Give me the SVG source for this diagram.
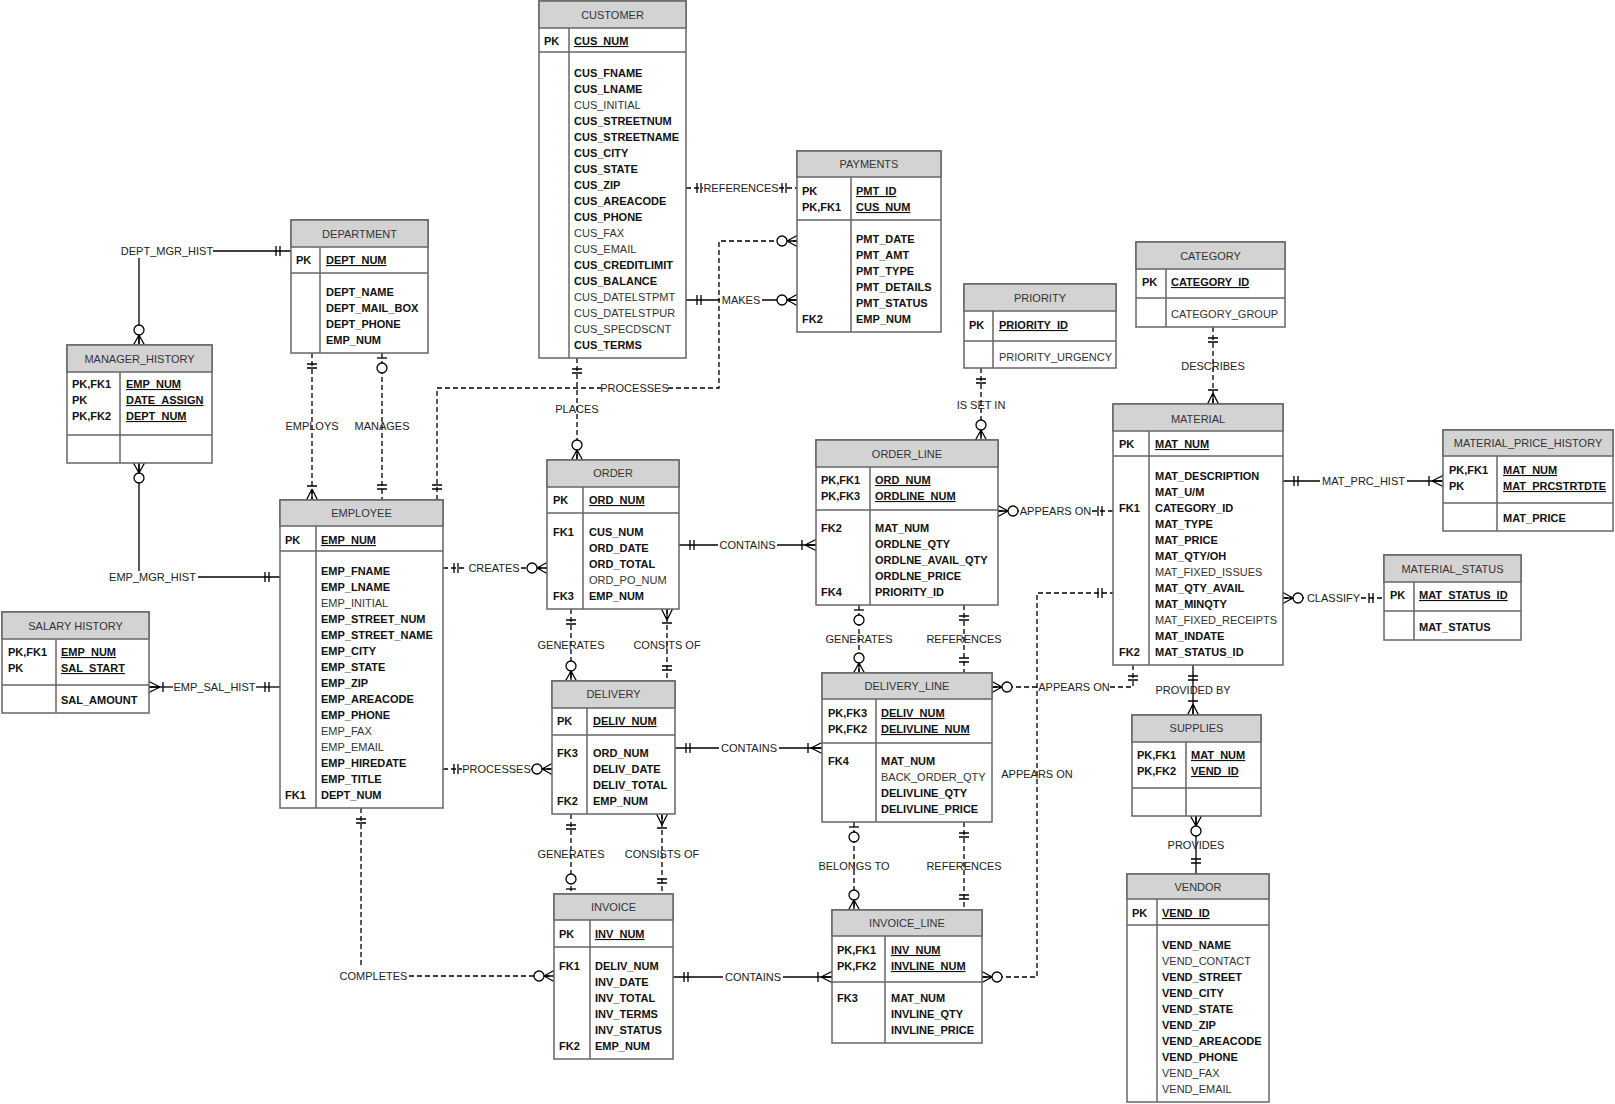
<svg xmlns="http://www.w3.org/2000/svg" width="1615" height="1104" viewBox="0 0 1615 1104">
<style>
.box{fill:#fff;stroke:#666;stroke-width:1.5}
.hd{fill:#d3d3d3;stroke:#666;stroke-width:1.5}
.dv{stroke:#666;stroke-width:1.5}
text{font-family:"Liberation Sans",Arial,sans-serif;font-size:11px;fill:#111}
.t{text-anchor:middle;fill:#333}
.k,.b{font-weight:bold}
.u{font-weight:bold;text-decoration:underline}
.r{fill:#333}
.lb{text-anchor:middle;fill:#222}
.s{stroke:#000;stroke-width:1.3;fill:none}
.d{stroke:#000;stroke-width:1.3;fill:none;stroke-dasharray:5 3}
.mk{stroke:#000;stroke-width:1.3;fill:none}
.mc{stroke:#000;stroke-width:1.3;fill:#fff}
</style>
<defs>
<marker id="one" markerUnits="userSpaceOnUse" orient="auto-start-reverse" refX="0" refY="0" markerWidth="30" markerHeight="30" overflow="visible"><path class="mk" d="M-11,-5V5M-15,-5V5"/></marker>
<marker id="many1" markerUnits="userSpaceOnUse" orient="auto-start-reverse" refX="0" refY="0" markerWidth="30" markerHeight="30" overflow="visible"><path class="mk" d="M-11,0L0,-5.5M-11,0L0,0M-11,0L0,5.5M-14,-5V5"/></marker>
<marker id="many0" markerUnits="userSpaceOnUse" orient="auto-start-reverse" refX="0" refY="0" markerWidth="30" markerHeight="30" overflow="visible"><path class="mk" d="M-10,0L0,-5.5M-10,0L0,0M-10,0L0,5.5"/><circle class="mc" cx="-15" cy="0" r="5"/></marker>
<marker id="one0" markerUnits="userSpaceOnUse" orient="auto-start-reverse" refX="0" refY="0" markerWidth="30" markerHeight="30" overflow="visible"><path class="mk" d="M-5,-5V5"/><circle class="mc" cx="-15" cy="0" r="5"/></marker>
</defs>
<rect width="1615" height="1104" fill="#fff"/>

<g id="connectors">
<!-- DEPT_MGR_HIST -->
<path class="s" d="M213,251H291" marker-end="url(#one)"/>
<path class="s" d="M139,258V345" marker-end="url(#many0)"/>
<text class="lb" x="167" y="255">DEPT_MGR_HIST</text>
<!-- EMP_MGR_HIST -->
<path class="s" d="M139,463V571" marker-start="url(#many0)"/>
<path class="s" d="M198,577H280" marker-end="url(#one)"/>
<text class="lb" x="152.5" y="581">EMP_MGR_HIST</text>
<!-- EMP_SAL_HIST -->
<path class="s" d="M149,687H173" marker-start="url(#many1)"/>
<path class="s" d="M256,687H280" marker-end="url(#one)"/>
<text class="lb" x="214.5" y="691">EMP_SAL_HIST</text>
<!-- EMPLOYS / MANAGES -->
<path class="d" d="M312,353V500" marker-start="url(#one)" marker-end="url(#many1)"/>
<text class="lb" x="312" y="430">EMPLOYS</text>
<path class="d" d="M382,353V500" marker-start="url(#one0)" marker-end="url(#one)"/>
<text class="lb" x="382" y="430">MANAGES</text>
<!-- PROCESSES employee-payments -->
<path class="d" d="M437,500V388H601" marker-start="url(#one)"/>
<path class="d" d="M668,388H719V241H797" marker-end="url(#many0)"/>
<text class="lb" x="634.5" y="392">PROCESSES</text>
<!-- PLACES -->
<path class="d" d="M577,358V460" marker-start="url(#one)" marker-end="url(#many0)"/>
<text class="lb" x="577" y="413">PLACES</text>
<!-- REFERENCES customer-payments -->
<path class="d" d="M686,188H703" marker-start="url(#one)"/>
<path class="d" d="M779,188H797" marker-end="url(#one)"/>
<text class="lb" x="741" y="192">REFERENCES</text>
<!-- MAKES -->
<path class="s" d="M686,300H720" marker-start="url(#one)"/>
<path class="s" d="M762,300H797" marker-end="url(#many0)"/>
<text class="lb" x="741" y="304">MAKES</text>
<!-- CREATES -->
<path class="d" d="M443,568H467" marker-start="url(#one)"/>
<path class="d" d="M521,568H547" marker-end="url(#many0)"/>
<text class="lb" x="494" y="572">CREATES</text>
<!-- CONTAINS order-order_line -->
<path class="s" d="M679,545H718" marker-start="url(#one)"/>
<path class="s" d="M777,545H816" marker-end="url(#many1)"/>
<text class="lb" x="747.5" y="549">CONTAINS</text>
<!-- GENERATES / CONSITS OF order-delivery -->
<path class="d" d="M571,609V681" marker-start="url(#one)" marker-end="url(#many0)"/>
<text class="lb" x="571" y="649">GENERATES</text>
<path class="d" d="M667,609V681" marker-start="url(#many1)" marker-end="url(#one)"/>
<text class="lb" x="667" y="649">CONSITS OF</text>
<!-- PROCESSES employee-delivery -->
<path class="d" d="M443,769H462" marker-start="url(#one)"/>
<path class="d" d="M531,769H552" marker-end="url(#many0)"/>
<text class="lb" x="496.5" y="773">PROCESSES</text>
<!-- CONTAINS delivery-delivery_line -->
<path class="s" d="M675,748H719" marker-start="url(#one)"/>
<path class="s" d="M779,748H822" marker-end="url(#many1)"/>
<text class="lb" x="749" y="752">CONTAINS</text>
<!-- GENERATES / CONSISTS OF delivery-invoice -->
<path class="d" d="M571,814V894" marker-start="url(#one)" marker-end="url(#one0)"/>
<text class="lb" x="571" y="858">GENERATES</text>
<path class="d" d="M662,814V894" marker-start="url(#many1)" marker-end="url(#one)"/>
<text class="lb" x="662" y="858">CONSISTS OF</text>
<!-- COMPLETES -->
<path class="d" d="M361,808V966" marker-start="url(#one)"/>
<path class="d" d="M409,976H554" marker-end="url(#many0)"/>
<text class="lb" x="373.5" y="980">COMPLETES</text>
<!-- CONTAINS invoice-invoice_line -->
<path class="s" d="M673,977H723" marker-start="url(#one)"/>
<path class="s" d="M783,977H832" marker-end="url(#many1)"/>
<text class="lb" x="753" y="981">CONTAINS</text>
<!-- IS SET IN -->
<path class="d" d="M981,368V440" marker-start="url(#one)" marker-end="url(#many0)"/>
<text class="lb" x="981" y="409">IS SET IN</text>
<!-- DESCRIBES -->
<path class="d" d="M1213,327V404" marker-start="url(#one)" marker-end="url(#many1)"/>
<text class="lb" x="1213" y="370">DESCRIBES</text>
<!-- APPEARS ON order_line-material -->
<path class="d" d="M998,511H1019" marker-start="url(#many0)"/>
<path class="d" d="M1092,511H1113" marker-end="url(#one)"/>
<text class="lb" x="1055.5" y="515">APPEARS ON</text>
<!-- MAT_PRC_HIST -->
<path class="s" d="M1283,481H1320" marker-start="url(#one)"/>
<path class="s" d="M1407,481H1443" marker-end="url(#many1)"/>
<text class="lb" x="1363.5" y="485">MAT_PRC_HIST</text>
<!-- CLASSIFY -->
<path class="d" d="M1283,598H1306" marker-start="url(#many0)"/>
<path class="d" d="M1361,598H1384" marker-end="url(#one)"/>
<text class="lb" x="1333.5" y="602">CLASSIFY</text>
<!-- GENERATES / REFERENCES order_line-delivery_line -->
<path class="d" d="M859,605V673" marker-start="url(#one0)" marker-end="url(#many0)"/>
<text class="lb" x="859" y="643">GENERATES</text>
<path class="d" d="M964,605V673" marker-start="url(#one)" marker-end="url(#one)"/>
<text class="lb" x="964" y="643">REFERENCES</text>
<!-- APPEARS ON delivery_line-material -->
<path class="d" d="M992,687H1037" marker-start="url(#many0)"/>
<path class="d" d="M1110,687H1133V665" marker-end="url(#one)"/>
<text class="lb" x="1074" y="691">APPEARS ON</text>
<!-- APPEARS ON invoice_line-material -->
<path class="d" d="M982,977H1037V593H1113" marker-start="url(#many0)" marker-end="url(#one)"/>
<text class="lb" x="1037" y="778">APPEARS ON</text>
<!-- BELONGS TO / REFERENCES delivery_line-invoice_line -->
<path class="d" d="M854,822V910" marker-start="url(#one0)" marker-end="url(#many0)"/>
<text class="lb" x="854" y="870">BELONGS TO</text>
<path class="d" d="M964,822V910" marker-start="url(#one)" marker-end="url(#one)"/>
<text class="lb" x="964" y="870">REFERENCES</text>
<!-- PROVIDED BY -->
<path class="s" d="M1193,665V715" marker-start="url(#one)" marker-end="url(#many1)"/>
<text class="lb" x="1193" y="694">PROVIDED BY</text>
<!-- PROVIDES -->
<path class="s" d="M1196,816V874" marker-start="url(#many0)" marker-end="url(#one)"/>
<text class="lb" x="1196" y="849">PROVIDES</text>
</g>

<g id="department">
<rect class="box" x="291" y="220" width="137" height="133"/>
<rect class="hd" x="291" y="220" width="137" height="27"/>
<line class="dv" x1="291" y1="273" x2="428" y2="273"/>
<line class="dv" x1="320" y1="247" x2="320" y2="353"/>
<text class="t" x="359.5" y="238">DEPARTMENT</text>
<text class="k" x="296" y="264">PK</text>
<text class="u" x="326" y="264">DEPT_NUM</text>
<text class="b" x="326" y="296">DEPT_NAME</text>
<text class="b" x="326" y="312">DEPT_MAIL_BOX</text>
<text class="b" x="326" y="328">DEPT_PHONE</text>
<text class="b" x="326" y="344">EMP_NUM</text>
</g>

<g id="manager_history">
<rect class="box" x="67" y="345" width="145" height="118"/>
<rect class="hd" x="67" y="345" width="145" height="27"/>
<line class="dv" x1="67" y1="435" x2="212" y2="435"/>
<line class="dv" x1="120" y1="372" x2="120" y2="463"/>
<text class="t" x="139.5" y="363">MANAGER_HISTORY</text>
<text class="k" x="72" y="388">PK,FK1</text>
<text class="k" x="72" y="404">PK</text>
<text class="k" x="72" y="420">PK,FK2</text>
<text class="u" x="126" y="388">EMP_NUM</text>
<text class="u" x="126" y="404">DATE_ASSIGN</text>
<text class="u" x="126" y="420">DEPT_NUM</text>
</g>

<g id="employee">
<rect class="box" x="280" y="500" width="163" height="308"/>
<rect class="hd" x="280" y="500" width="163" height="26"/>
<line class="dv" x1="280" y1="551" x2="443" y2="551"/>
<line class="dv" x1="316" y1="526" x2="316" y2="808"/>
<text class="t" x="361.5" y="517">EMPLOYEE</text>
<text class="k" x="285" y="544">PK</text>
<text class="u" x="321" y="544">EMP_NUM</text>
<text class="b" x="321" y="575">EMP_FNAME</text>
<text class="b" x="321" y="591">EMP_LNAME</text>
<text class="r" x="321" y="607">EMP_INITIAL</text>
<text class="b" x="321" y="623">EMP_STREET_NUM</text>
<text class="b" x="321" y="639">EMP_STREET_NAME</text>
<text class="b" x="321" y="655">EMP_CITY</text>
<text class="b" x="321" y="671">EMP_STATE</text>
<text class="b" x="321" y="687">EMP_ZIP</text>
<text class="b" x="321" y="703">EMP_AREACODE</text>
<text class="b" x="321" y="719">EMP_PHONE</text>
<text class="r" x="321" y="735">EMP_FAX</text>
<text class="r" x="321" y="751">EMP_EMAIL</text>
<text class="b" x="321" y="767">EMP_HIREDATE</text>
<text class="b" x="321" y="783">EMP_TITLE</text>
<text class="k" x="285" y="799">FK1</text>
<text class="b" x="321" y="799">DEPT_NUM</text>
</g>

<g id="salary_history">
<rect class="box" x="2" y="612" width="147" height="101"/>
<rect class="hd" x="2" y="612" width="147" height="27"/>
<line class="dv" x1="2" y1="685" x2="149" y2="685"/>
<line class="dv" x1="56" y1="639" x2="56" y2="713"/>
<text class="t" x="75.5" y="630">SALARY HISTORY</text>
<text class="k" x="8" y="656">PK,FK1</text>
<text class="k" x="8" y="672">PK</text>
<text class="u" x="61" y="656">EMP_NUM</text>
<text class="u" x="61" y="672">SAL_START</text>
<text class="b" x="61" y="704">SAL_AMOUNT</text>
</g>

<g id="customer">
<rect class="box" x="539" y="1" width="147" height="357"/>
<rect class="hd" x="539" y="1" width="147" height="27"/>
<line class="dv" x1="539" y1="52" x2="686" y2="52"/>
<line class="dv" x1="569" y1="28" x2="569" y2="358"/>
<text class="t" x="612.5" y="19">CUSTOMER</text>
<text class="k" x="544" y="45">PK</text>
<text class="u" x="574" y="45">CUS_NUM</text>
<text class="b" x="574" y="77">CUS_FNAME</text>
<text class="b" x="574" y="93">CUS_LNAME</text>
<text class="r" x="574" y="109">CUS_INITIAL</text>
<text class="b" x="574" y="125">CUS_STREETNUM</text>
<text class="b" x="574" y="141">CUS_STREETNAME</text>
<text class="b" x="574" y="157">CUS_CITY</text>
<text class="b" x="574" y="173">CUS_STATE</text>
<text class="b" x="574" y="189">CUS_ZIP</text>
<text class="b" x="574" y="205">CUS_AREACODE</text>
<text class="b" x="574" y="221">CUS_PHONE</text>
<text class="r" x="574" y="237">CUS_FAX</text>
<text class="r" x="574" y="253">CUS_EMAIL</text>
<text class="b" x="574" y="269">CUS_CREDITLIMIT</text>
<text class="b" x="574" y="285">CUS_BALANCE</text>
<text class="r" x="574" y="301">CUS_DATELSTPMT</text>
<text class="r" x="574" y="317">CUS_DATELSTPUR</text>
<text class="r" x="574" y="333">CUS_SPECDSCNT</text>
<text class="b" x="574" y="349">CUS_TERMS</text>
</g>

<g id="payments">
<rect class="box" x="797" y="151" width="144" height="181"/>
<rect class="hd" x="797" y="151" width="144" height="26"/>
<line class="dv" x1="797" y1="220" x2="941" y2="220"/>
<line class="dv" x1="851" y1="177" x2="851" y2="332"/>
<text class="t" x="869" y="168">PAYMENTS</text>
<text class="k" x="802" y="195">PK</text>
<text class="k" x="802" y="211">PK,FK1</text>
<text class="u" x="856" y="195">PMT_ID</text>
<text class="u" x="856" y="211">CUS_NUM</text>
<text class="b" x="856" y="243">PMT_DATE</text>
<text class="b" x="856" y="259">PMT_AMT</text>
<text class="b" x="856" y="275">PMT_TYPE</text>
<text class="b" x="856" y="291">PMT_DETAILS</text>
<text class="b" x="856" y="307">PMT_STATUS</text>
<text class="k" x="802" y="323">FK2</text>
<text class="b" x="856" y="323">EMP_NUM</text>
</g>

<g id="priority">
<rect class="box" x="964" y="284" width="152" height="84"/>
<rect class="hd" x="964" y="284" width="152" height="27"/>
<line class="dv" x1="964" y1="341" x2="1116" y2="341"/>
<line class="dv" x1="993" y1="311" x2="993" y2="368"/>
<text class="t" x="1040" y="302">PRIORITY</text>
<text class="k" x="969" y="329">PK</text>
<text class="u" x="999" y="329">PRIORITY_ID</text>
<text class="r" x="999" y="361">PRIORITY_URGENCY</text>
</g>

<g id="category">
<rect class="box" x="1136" y="242" width="149" height="85"/>
<rect class="hd" x="1136" y="242" width="149" height="27"/>
<line class="dv" x1="1136" y1="298" x2="1285" y2="298"/>
<line class="dv" x1="1166" y1="269" x2="1166" y2="327"/>
<text class="t" x="1210.5" y="260">CATEGORY</text>
<text class="k" x="1142" y="286">PK</text>
<text class="u" x="1171" y="286">CATEGORY_ID</text>
<text class="r" x="1171" y="318">CATEGORY_GROUP</text>
</g>

<g id="material">
<rect class="box" x="1113" y="404" width="170" height="261"/>
<rect class="hd" x="1113" y="404" width="170" height="27"/>
<line class="dv" x1="1113" y1="456" x2="1283" y2="456"/>
<line class="dv" x1="1149" y1="431" x2="1149" y2="665"/>
<text class="t" x="1198" y="423">MATERIAL</text>
<text class="k" x="1119" y="448">PK</text>
<text class="u" x="1155" y="448">MAT_NUM</text>
<text class="b" x="1155" y="480">MAT_DESCRIPTION</text>
<text class="b" x="1155" y="496">MAT_U/M</text>
<text class="k" x="1119" y="512">FK1</text>
<text class="b" x="1155" y="512">CATEGORY_ID</text>
<text class="b" x="1155" y="528">MAT_TYPE</text>
<text class="b" x="1155" y="544">MAT_PRICE</text>
<text class="b" x="1155" y="560">MAT_QTY/OH</text>
<text class="r" x="1155" y="576">MAT_FIXED_ISSUES</text>
<text class="b" x="1155" y="592">MAT_QTY_AVAIL</text>
<text class="b" x="1155" y="608">MAT_MINQTY</text>
<text class="r" x="1155" y="624">MAT_FIXED_RECEIPTS</text>
<text class="b" x="1155" y="640">MAT_INDATE</text>
<text class="k" x="1119" y="656">FK2</text>
<text class="b" x="1155" y="656">MAT_STATUS_ID</text>
</g>

<g id="material_price_history">
<rect class="box" x="1443" y="430" width="170" height="101"/>
<rect class="hd" x="1443" y="430" width="170" height="26"/>
<line class="dv" x1="1443" y1="503" x2="1613" y2="503"/>
<line class="dv" x1="1497" y1="456" x2="1497" y2="531"/>
<text class="t" x="1528" y="447">MATERIAL_PRICE_HISTORY</text>
<text class="k" x="1449" y="474">PK,FK1</text>
<text class="k" x="1449" y="490">PK</text>
<text class="u" x="1503" y="474">MAT_NUM</text>
<text class="u" x="1503" y="490">MAT_PRCSTRTDTE</text>
<text class="b" x="1503" y="522">MAT_PRICE</text>
</g>

<g id="material_status">
<rect class="box" x="1384" y="555" width="137" height="85"/>
<rect class="hd" x="1384" y="555" width="137" height="27"/>
<line class="dv" x1="1384" y1="611" x2="1521" y2="611"/>
<line class="dv" x1="1414" y1="582" x2="1414" y2="640"/>
<text class="t" x="1452.5" y="573">MATERIAL_STATUS</text>
<text class="k" x="1390" y="599">PK</text>
<text class="u" x="1419" y="599">MAT_STATUS_ID</text>
<text class="b" x="1419" y="631">MAT_STATUS</text>
</g>

<g id="order_line">
<rect class="box" x="816" y="440" width="182" height="165"/>
<rect class="hd" x="816" y="440" width="182" height="27"/>
<line class="dv" x1="816" y1="510" x2="998" y2="510"/>
<line class="dv" x1="870" y1="467" x2="870" y2="605"/>
<text class="t" x="907" y="458">ORDER_LINE</text>
<text class="k" x="821" y="484">PK,FK1</text>
<text class="k" x="821" y="500">PK,FK3</text>
<text class="u" x="875" y="484">ORD_NUM</text>
<text class="u" x="875" y="500">ORDLINE_NUM</text>
<text class="k" x="821" y="532">FK2</text>
<text class="b" x="875" y="532">MAT_NUM</text>
<text class="b" x="875" y="548">ORDLNE_QTY</text>
<text class="b" x="875" y="564">ORDLNE_AVAIL_QTY</text>
<text class="b" x="875" y="580">ORDLNE_PRICE</text>
<text class="k" x="821" y="596">FK4</text>
<text class="b" x="875" y="596">PRIORITY_ID</text>
</g>

<g id="order">
<rect class="box" x="547" y="460" width="132" height="149"/>
<rect class="hd" x="547" y="460" width="132" height="27"/>
<line class="dv" x1="547" y1="513" x2="679" y2="513"/>
<line class="dv" x1="583" y1="487" x2="583" y2="609"/>
<text class="t" x="613" y="477">ORDER</text>
<text class="k" x="553" y="504">PK</text>
<text class="u" x="589" y="504">ORD_NUM</text>
<text class="k" x="553" y="536">FK1</text>
<text class="b" x="589" y="536">CUS_NUM</text>
<text class="b" x="589" y="552">ORD_DATE</text>
<text class="b" x="589" y="568">ORD_TOTAL</text>
<text class="r" x="589" y="584">ORD_PO_NUM</text>
<text class="k" x="553" y="600">FK3</text>
<text class="b" x="589" y="600">EMP_NUM</text>
</g>

<g id="delivery">
<rect class="box" x="552" y="681" width="123" height="133"/>
<rect class="hd" x="552" y="681" width="123" height="27"/>
<line class="dv" x1="552" y1="735" x2="675" y2="735"/>
<line class="dv" x1="587" y1="708" x2="587" y2="814"/>
<text class="t" x="613.5" y="698">DELIVERY</text>
<text class="k" x="557" y="725">PK</text>
<text class="u" x="593" y="725">DELIV_NUM</text>
<text class="k" x="557" y="757">FK3</text>
<text class="b" x="593" y="757">ORD_NUM</text>
<text class="b" x="593" y="773">DELIV_DATE</text>
<text class="b" x="593" y="789">DELIV_TOTAL</text>
<text class="k" x="557" y="805">FK2</text>
<text class="b" x="593" y="805">EMP_NUM</text>
</g>

<g id="invoice">
<rect class="box" x="554" y="894" width="119" height="165"/>
<rect class="hd" x="554" y="894" width="119" height="26"/>
<line class="dv" x1="554" y1="947" x2="673" y2="947"/>
<line class="dv" x1="590" y1="920" x2="590" y2="1059"/>
<text class="t" x="613.5" y="911">INVOICE</text>
<text class="k" x="559" y="938">PK</text>
<text class="u" x="595" y="938">INV_NUM</text>
<text class="k" x="559" y="970">FK1</text>
<text class="b" x="595" y="970">DELIV_NUM</text>
<text class="b" x="595" y="986">INV_DATE</text>
<text class="b" x="595" y="1002">INV_TOTAL</text>
<text class="b" x="595" y="1018">INV_TERMS</text>
<text class="b" x="595" y="1034">INV_STATUS</text>
<text class="k" x="559" y="1050">FK2</text>
<text class="b" x="595" y="1050">EMP_NUM</text>
</g>

<g id="delivery_line">
<rect class="box" x="822" y="673" width="170" height="149"/>
<rect class="hd" x="822" y="673" width="170" height="26"/>
<line class="dv" x1="822" y1="743" x2="992" y2="743"/>
<line class="dv" x1="876" y1="699" x2="876" y2="822"/>
<text class="t" x="907" y="690">DELIVERY_LINE</text>
<text class="k" x="828" y="717">PK,FK3</text>
<text class="k" x="828" y="733">PK,FK2</text>
<text class="u" x="881" y="717">DELIV_NUM</text>
<text class="u" x="881" y="733">DELIVLINE_NUM</text>
<text class="k" x="828" y="765">FK4</text>
<text class="b" x="881" y="765">MAT_NUM</text>
<text class="r" x="881" y="781">BACK_ORDER_QTY</text>
<text class="b" x="881" y="797">DELIVLINE_QTY</text>
<text class="b" x="881" y="813">DELIVLINE_PRICE</text>
</g>

<g id="invoice_line">
<rect class="box" x="832" y="910" width="150" height="133"/>
<rect class="hd" x="832" y="910" width="150" height="26"/>
<line class="dv" x1="832" y1="982" x2="982" y2="982"/>
<line class="dv" x1="885" y1="936" x2="885" y2="1043"/>
<text class="t" x="907" y="927">INVOICE_LINE</text>
<text class="k" x="837" y="954">PK,FK1</text>
<text class="k" x="837" y="970">PK,FK2</text>
<text class="u" x="891" y="954">INV_NUM</text>
<text class="u" x="891" y="970">INVLINE_NUM</text>
<text class="k" x="837" y="1002">FK3</text>
<text class="b" x="891" y="1002">MAT_NUM</text>
<text class="b" x="891" y="1018">INVLINE_QTY</text>
<text class="b" x="891" y="1034">INVLINE_PRICE</text>
</g>

<g id="supplies">
<rect class="box" x="1132" y="715" width="129" height="101"/>
<rect class="hd" x="1132" y="715" width="129" height="27"/>
<line class="dv" x1="1132" y1="788" x2="1261" y2="788"/>
<line class="dv" x1="1186" y1="742" x2="1186" y2="816"/>
<text class="t" x="1196.5" y="732">SUPPLIES</text>
<text class="k" x="1137" y="759">PK,FK1</text>
<text class="k" x="1137" y="775">PK,FK2</text>
<text class="u" x="1191" y="759">MAT_NUM</text>
<text class="u" x="1191" y="775">VEND_ID</text>
</g>

<g id="vendor">
<rect class="box" x="1127" y="874" width="142" height="228"/>
<rect class="hd" x="1127" y="874" width="142" height="25"/>
<line class="dv" x1="1127" y1="925" x2="1269" y2="925"/>
<line class="dv" x1="1157" y1="899" x2="1157" y2="1102"/>
<text class="t" x="1198" y="891">VENDOR</text>
<text class="k" x="1132" y="917">PK</text>
<text class="u" x="1162" y="917">VEND_ID</text>
<text class="b" x="1162" y="949">VEND_NAME</text>
<text class="r" x="1162" y="965">VEND_CONTACT</text>
<text class="b" x="1162" y="981">VEND_STREET</text>
<text class="b" x="1162" y="997">VEND_CITY</text>
<text class="b" x="1162" y="1013">VEND_STATE</text>
<text class="b" x="1162" y="1029">VEND_ZIP</text>
<text class="b" x="1162" y="1045">VEND_AREACODE</text>
<text class="b" x="1162" y="1061">VEND_PHONE</text>
<text class="r" x="1162" y="1077">VEND_FAX</text>
<text class="r" x="1162" y="1093">VEND_EMAIL</text>
</g>
</svg>
